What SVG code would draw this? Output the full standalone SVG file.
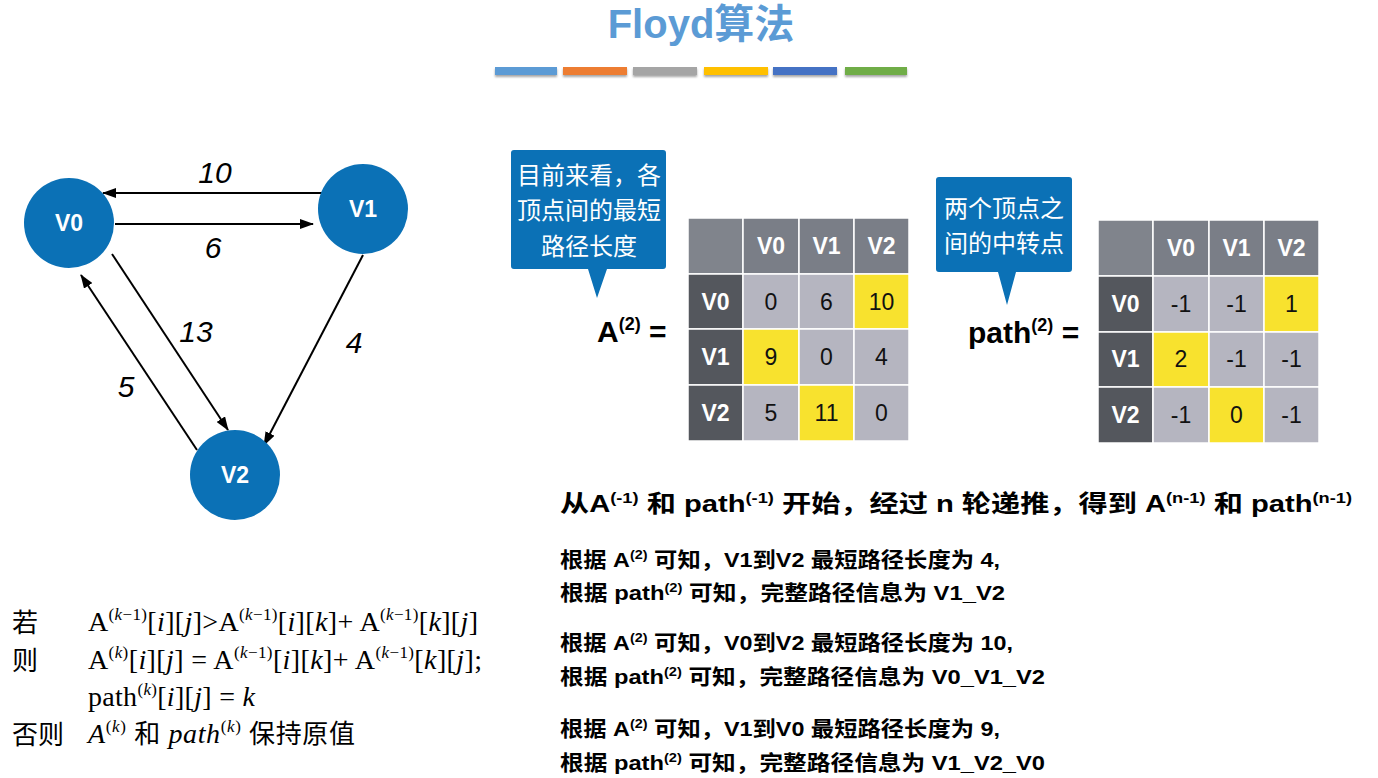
<svg xmlns="http://www.w3.org/2000/svg" width="1378" height="778" viewBox="0 0 1378 778">
<style>
  .sans { font-family: "Liberation Sans", "Noto Sans CJK SC", sans-serif; }
  .title { font-family: "Liberation Sans", "Noto Sans CJK SC", sans-serif; font-size: 40px; font-weight: bold; fill: #5b9bd5; }
  .node { fill: #0b71b6; }
  .nlabel { font-family: "Liberation Sans", sans-serif; font-size: 23px; font-weight: bold; fill: #ffffff; text-anchor: middle; }
  .elabel { font-family: "Liberation Sans", sans-serif; font-size: 30px; font-style: italic; fill: #000; text-anchor: middle; }
  .edge { stroke: #000; stroke-width: 2; fill: none; marker-end: url(#arrow); }
  .callout { fill: #0b71b6; }
  .ctext { font-family: "Noto Sans CJK SC", sans-serif; font-size: 24px; fill: #ffffff; text-anchor: middle; }
  .corner { fill: #80848c; stroke: #fff; stroke-width: 1.5; }
  .colh { fill: #7a7e87; stroke: #fff; stroke-width: 1.5; }
  .rowh { fill: #54575d; stroke: #fff; stroke-width: 1.5; }
  .cell { fill: #b5b5c0; stroke: #fff; stroke-width: 1.5; }
  .hl { fill: #f8e22e; stroke: #fff; stroke-width: 1.5; }
  .ht { font-family: "Liberation Sans", sans-serif; font-size: 23px; font-weight: bold; fill: #fff; text-anchor: middle; }
  .vt { font-family: "Liberation Sans", sans-serif; font-size: 23px; fill: #111; text-anchor: middle; }
  .eq { font-family: "Liberation Sans", sans-serif; font-size: 30px; font-weight: bold; fill: #000; }
  .eqs { font-size: 18px; }
  .big { font-family: "Liberation Sans", "Noto Sans CJK SC", sans-serif; font-size: 24px; font-weight: bold; fill: #000; }
  .line { font-family: "Liberation Sans", "Noto Sans CJK SC", sans-serif; font-size: 21px; font-weight: bold; fill: #000; }
  .s1 { font-size: 15px; }
  .s2 { font-size: 13px; }
  .fm { font-family: "Liberation Serif", "Noto Sans CJK SC", serif; font-size: 28px; fill: #000; }
  .cj { font-family: "Noto Sans CJK SC", sans-serif; font-size: 26px; fill: #000; }
  .sp { font-size: 17px; }
  .it { font-style: italic; }
</style>
<defs>
  <marker id="arrow" markerWidth="14" markerHeight="10" refX="13" refY="5" orient="auto" markerUnits="userSpaceOnUse">
    <path d="M0,0 L14,5 L0,10 Z" fill="#000"/>
  </marker>
  <filter id="shadow" x="-10%" y="-50%" width="120%" height="250%">
    <feDropShadow dx="0" dy="2" stdDeviation="1.2" flood-color="#000" flood-opacity="0.35"/>
  </filter>
</defs>
<rect x="0" y="0" width="1378" height="778" fill="#ffffff"/>

<!-- Title -->
<g id="title">
  <text class="title" x="701" y="38" text-anchor="middle">Floyd算法</text>
  <g filter="url(#shadow)">
    <rect x="495" y="67" width="62" height="8" fill="#5b9bd5"/>
    <rect x="563" y="67" width="64" height="8" fill="#ed7d31"/>
    <rect x="633" y="67" width="64" height="8" fill="#a5a5a5"/>
    <rect x="704" y="67" width="64" height="8" fill="#ffc000"/>
    <rect x="773" y="67" width="64" height="8" fill="#4472c4"/>
    <rect x="845" y="67" width="62" height="8" fill="#70ad47"/>
  </g>
</g>

<!-- Connectors -->
<g id="connectors">
  <path class="edge" d="M325,193 L103,193"/>
  <path class="edge" d="M115,224 L313,224"/>
  <path class="edge" d="M112,254 L228,430"/>
  <path class="edge" d="M363,255 L264,445"/>
  <path class="edge" d="M197,450 L81,275"/>
  <text class="elabel" x="215" y="183">10</text>
  <text class="elabel" x="213" y="258">6</text>
  <text class="elabel" x="196" y="342">13</text>
  <text class="elabel" x="354" y="353">4</text>
  <text class="elabel" x="126" y="397">5</text>
</g>

<!-- Nodes -->
<g id="node-V0">
  <circle class="node" cx="69" cy="223" r="45"/>
  <text class="nlabel" x="69" y="231">V0</text>
</g>
<g id="node-V1">
  <circle class="node" cx="363" cy="209" r="45"/>
  <text class="nlabel" x="363" y="217">V1</text>
</g>
<g id="node-V2">
  <circle class="node" cx="235" cy="475" r="45"/>
  <text class="nlabel" x="235" y="483">V2</text>
</g>

<!-- Callout 1 -->
<g id="callout-A">
  <path class="callout" d="M511,153 Q511,150 514,150 L663,150 Q666,150 666,153 L666,266 Q666,269 663,269 L607,269 L597,298 L588,269 L514,269 Q511,269 511,266 Z"/>
  <text class="ctext" x="589" y="184">目前来看，各</text>
  <text class="ctext" x="589" y="219">顶点间的最短</text>
  <text class="ctext" x="589" y="255">路径长度</text>
</g>

<!-- Callout 2 -->
<g id="callout-path">
  <path class="callout" d="M936,180 Q936,177 939,177 L1069,177 Q1072,177 1072,180 L1072,269 Q1072,272 1069,272 L1016,272 L1007,305 L998,272 L939,272 Q936,272 936,269 Z"/>
  <text class="ctext" x="1004" y="217">两个顶点之</text>
  <text class="ctext" x="1004" y="252">间的中转点</text>
</g>

<!-- Matrix A -->
<g id="matrix-A">
  <text class="eq" x="597" y="342">A<tspan class="eqs" dy="-12">(2)</tspan><tspan dy="12"> =</tspan></text>
  <rect class="corner" x="688" y="218" width="55" height="56"/>
  <rect class="colh" x="743" y="218" width="56" height="56"/>
  <rect class="colh" x="799" y="218" width="55" height="56"/>
  <rect class="colh" x="854" y="218" width="55" height="56"/>
  <rect class="rowh" x="688" y="274" width="55" height="55"/>
  <rect class="rowh" x="688" y="329" width="55" height="56"/>
  <rect class="rowh" x="688" y="385" width="55" height="56"/>
  <rect class="cell" x="743" y="274" width="56" height="55"/>
  <rect class="cell" x="799" y="274" width="55" height="55"/>
  <rect class="hl" x="854" y="274" width="55" height="55"/>
  <rect class="hl" x="743" y="329" width="56" height="56"/>
  <rect class="cell" x="799" y="329" width="55" height="56"/>
  <rect class="cell" x="854" y="329" width="55" height="56"/>
  <rect class="cell" x="743" y="385" width="56" height="56"/>
  <rect class="hl" x="799" y="385" width="55" height="56"/>
  <rect class="cell" x="854" y="385" width="55" height="56"/>
  <text class="ht" x="771" y="254">V0</text>
  <text class="ht" x="826.5" y="254">V1</text>
  <text class="ht" x="881.5" y="254">V2</text>
  <text class="ht" x="715.5" y="310">V0</text>
  <text class="ht" x="715.5" y="365">V1</text>
  <text class="ht" x="715.5" y="421">V2</text>
  <text class="vt" x="771" y="310">0</text>
  <text class="vt" x="826.5" y="310">6</text>
  <text class="vt" x="881.5" y="310">10</text>
  <text class="vt" x="771" y="365">9</text>
  <text class="vt" x="826.5" y="365">0</text>
  <text class="vt" x="881.5" y="365">4</text>
  <text class="vt" x="771" y="421">5</text>
  <text class="vt" x="826.5" y="421">11</text>
  <text class="vt" x="881.5" y="421">0</text>
</g>

<!-- Matrix path -->
<g id="matrix-path">
  <text class="eq" x="968" y="343">path<tspan class="eqs" dy="-12">(2)</tspan><tspan dy="12"> =</tspan></text>
  <rect class="corner" x="1098" y="220" width="55" height="56"/>
  <rect class="colh" x="1153" y="220" width="56" height="56"/>
  <rect class="colh" x="1209" y="220" width="55" height="56"/>
  <rect class="colh" x="1264" y="220" width="55" height="56"/>
  <rect class="rowh" x="1098" y="276" width="55" height="56"/>
  <rect class="rowh" x="1098" y="332" width="55" height="55"/>
  <rect class="rowh" x="1098" y="387" width="55" height="56"/>
  <rect class="cell" x="1153" y="276" width="56" height="56"/>
  <rect class="cell" x="1209" y="276" width="55" height="56"/>
  <rect class="hl" x="1264" y="276" width="55" height="56"/>
  <rect class="hl" x="1153" y="332" width="56" height="55"/>
  <rect class="cell" x="1209" y="332" width="55" height="55"/>
  <rect class="cell" x="1264" y="332" width="55" height="55"/>
  <rect class="cell" x="1153" y="387" width="56" height="56"/>
  <rect class="hl" x="1209" y="387" width="55" height="56"/>
  <rect class="cell" x="1264" y="387" width="55" height="56"/>
  <text class="ht" x="1181" y="256">V0</text>
  <text class="ht" x="1236.5" y="256">V1</text>
  <text class="ht" x="1291.5" y="256">V2</text>
  <text class="ht" x="1125.5" y="312">V0</text>
  <text class="ht" x="1125.5" y="367">V1</text>
  <text class="ht" x="1125.5" y="423">V2</text>
  <text class="vt" x="1181" y="312">-1</text>
  <text class="vt" x="1236.5" y="312">-1</text>
  <text class="vt" x="1291.5" y="312">1</text>
  <text class="vt" x="1181" y="367">2</text>
  <text class="vt" x="1236.5" y="367">-1</text>
  <text class="vt" x="1291.5" y="367">-1</text>
  <text class="vt" x="1181" y="423">-1</text>
  <text class="vt" x="1236.5" y="423">0</text>
  <text class="vt" x="1291.5" y="423">-1</text>
</g>

<!-- Explanation text -->
<g id="explanation">
  <text class="big" x="560" y="512" textLength="792" lengthAdjust="spacingAndGlyphs">从A<tspan class="s1" dy="-9">(-1)</tspan><tspan dy="9"> 和 path</tspan><tspan class="s1" dy="-9">(-1)</tspan><tspan dy="9"> 开始，经过 n 轮递推，得到 A</tspan><tspan class="s1" dy="-9">(n-1)</tspan><tspan dy="9"> 和 path</tspan><tspan class="s1" dy="-9">(n-1)</tspan></text>
  <text class="line" x="560" y="567" textLength="440" lengthAdjust="spacingAndGlyphs">根据 A<tspan class="s2" dy="-8">(2)</tspan><tspan dy="8"> 可知，V1到V2 最短路径长度为 4,</tspan></text>
  <text class="line" x="560" y="600" textLength="445" lengthAdjust="spacingAndGlyphs">根据 path<tspan class="s2" dy="-8">(2)</tspan><tspan dy="8">  可知，完整路径信息为 V1_V2</tspan></text>
  <text class="line" x="560" y="650" textLength="453" lengthAdjust="spacingAndGlyphs">根据 A<tspan class="s2" dy="-8">(2)</tspan><tspan dy="8"> 可知，V0到V2 最短路径长度为 10,</tspan></text>
  <text class="line" x="560" y="684" textLength="485" lengthAdjust="spacingAndGlyphs">根据 path<tspan class="s2" dy="-8">(2)</tspan><tspan dy="8">  可知，完整路径信息为 V0_V1_V2</tspan></text>
  <text class="line" x="560" y="736" textLength="440" lengthAdjust="spacingAndGlyphs">根据 A<tspan class="s2" dy="-8">(2)</tspan><tspan dy="8"> 可知，V1到V0 最短路径长度为 9,</tspan></text>
  <text class="line" x="560" y="770" textLength="485" lengthAdjust="spacingAndGlyphs">根据 path<tspan class="s2" dy="-8">(2)</tspan><tspan dy="8">  可知，完整路径信息为 V1_V2_V0</tspan></text>
</g>

<!-- Formula -->
<g id="formula">
  <text class="cj" x="12" y="632">若</text>
  <text class="cj" x="12" y="670">则</text>
  <text class="cj" x="12" y="744">否则</text>
  <text class="fm" x="88" y="631" textLength="390" lengthAdjust="spacing">A<tspan class="sp" dy="-11">(</tspan><tspan class="sp it">k</tspan><tspan class="sp">−1)</tspan><tspan dy="11">[</tspan><tspan class="it">i</tspan>][<tspan class="it">j</tspan>]&gt;A<tspan class="sp" dy="-11">(</tspan><tspan class="sp it">k</tspan><tspan class="sp">−1)</tspan><tspan dy="11">[</tspan><tspan class="it">i</tspan>][<tspan class="it">k</tspan>]+ A<tspan class="sp" dy="-11">(</tspan><tspan class="sp it">k</tspan><tspan class="sp">−1)</tspan><tspan dy="11">[</tspan><tspan class="it">k</tspan>][<tspan class="it">j</tspan>]</text>
  <text class="fm" x="88" y="669" textLength="394" lengthAdjust="spacing">A<tspan class="sp" dy="-11">(</tspan><tspan class="sp it">k</tspan><tspan class="sp">)</tspan><tspan dy="11">[</tspan><tspan class="it">i</tspan>][<tspan class="it">j</tspan>] = A<tspan class="sp" dy="-11">(</tspan><tspan class="sp it">k</tspan><tspan class="sp">−1)</tspan><tspan dy="11">[</tspan><tspan class="it">i</tspan>][<tspan class="it">k</tspan>]+ A<tspan class="sp" dy="-11">(</tspan><tspan class="sp it">k</tspan><tspan class="sp">−1)</tspan><tspan dy="11">[</tspan><tspan class="it">k</tspan>][<tspan class="it">j</tspan>];</text>
  <text class="fm" x="88" y="706" textLength="167" lengthAdjust="spacing">path<tspan class="sp" dy="-11">(</tspan><tspan class="sp it">k</tspan><tspan class="sp">)</tspan><tspan dy="11">[</tspan><tspan class="it">i</tspan>][<tspan class="it">j</tspan>] = <tspan class="it">k</tspan></text>
  <text class="fm" x="88" y="743" textLength="267" lengthAdjust="spacing"><tspan class="it">A</tspan><tspan class="sp" dy="-11">(</tspan><tspan class="sp it">k</tspan><tspan class="sp">)</tspan><tspan dy="11"> </tspan><tspan class="cj">和</tspan> <tspan class="it">path</tspan><tspan class="sp" dy="-11">(</tspan><tspan class="sp it">k</tspan><tspan class="sp">)</tspan><tspan dy="11"> </tspan><tspan class="cj">保持原值</tspan></text>
</g>
</svg>
